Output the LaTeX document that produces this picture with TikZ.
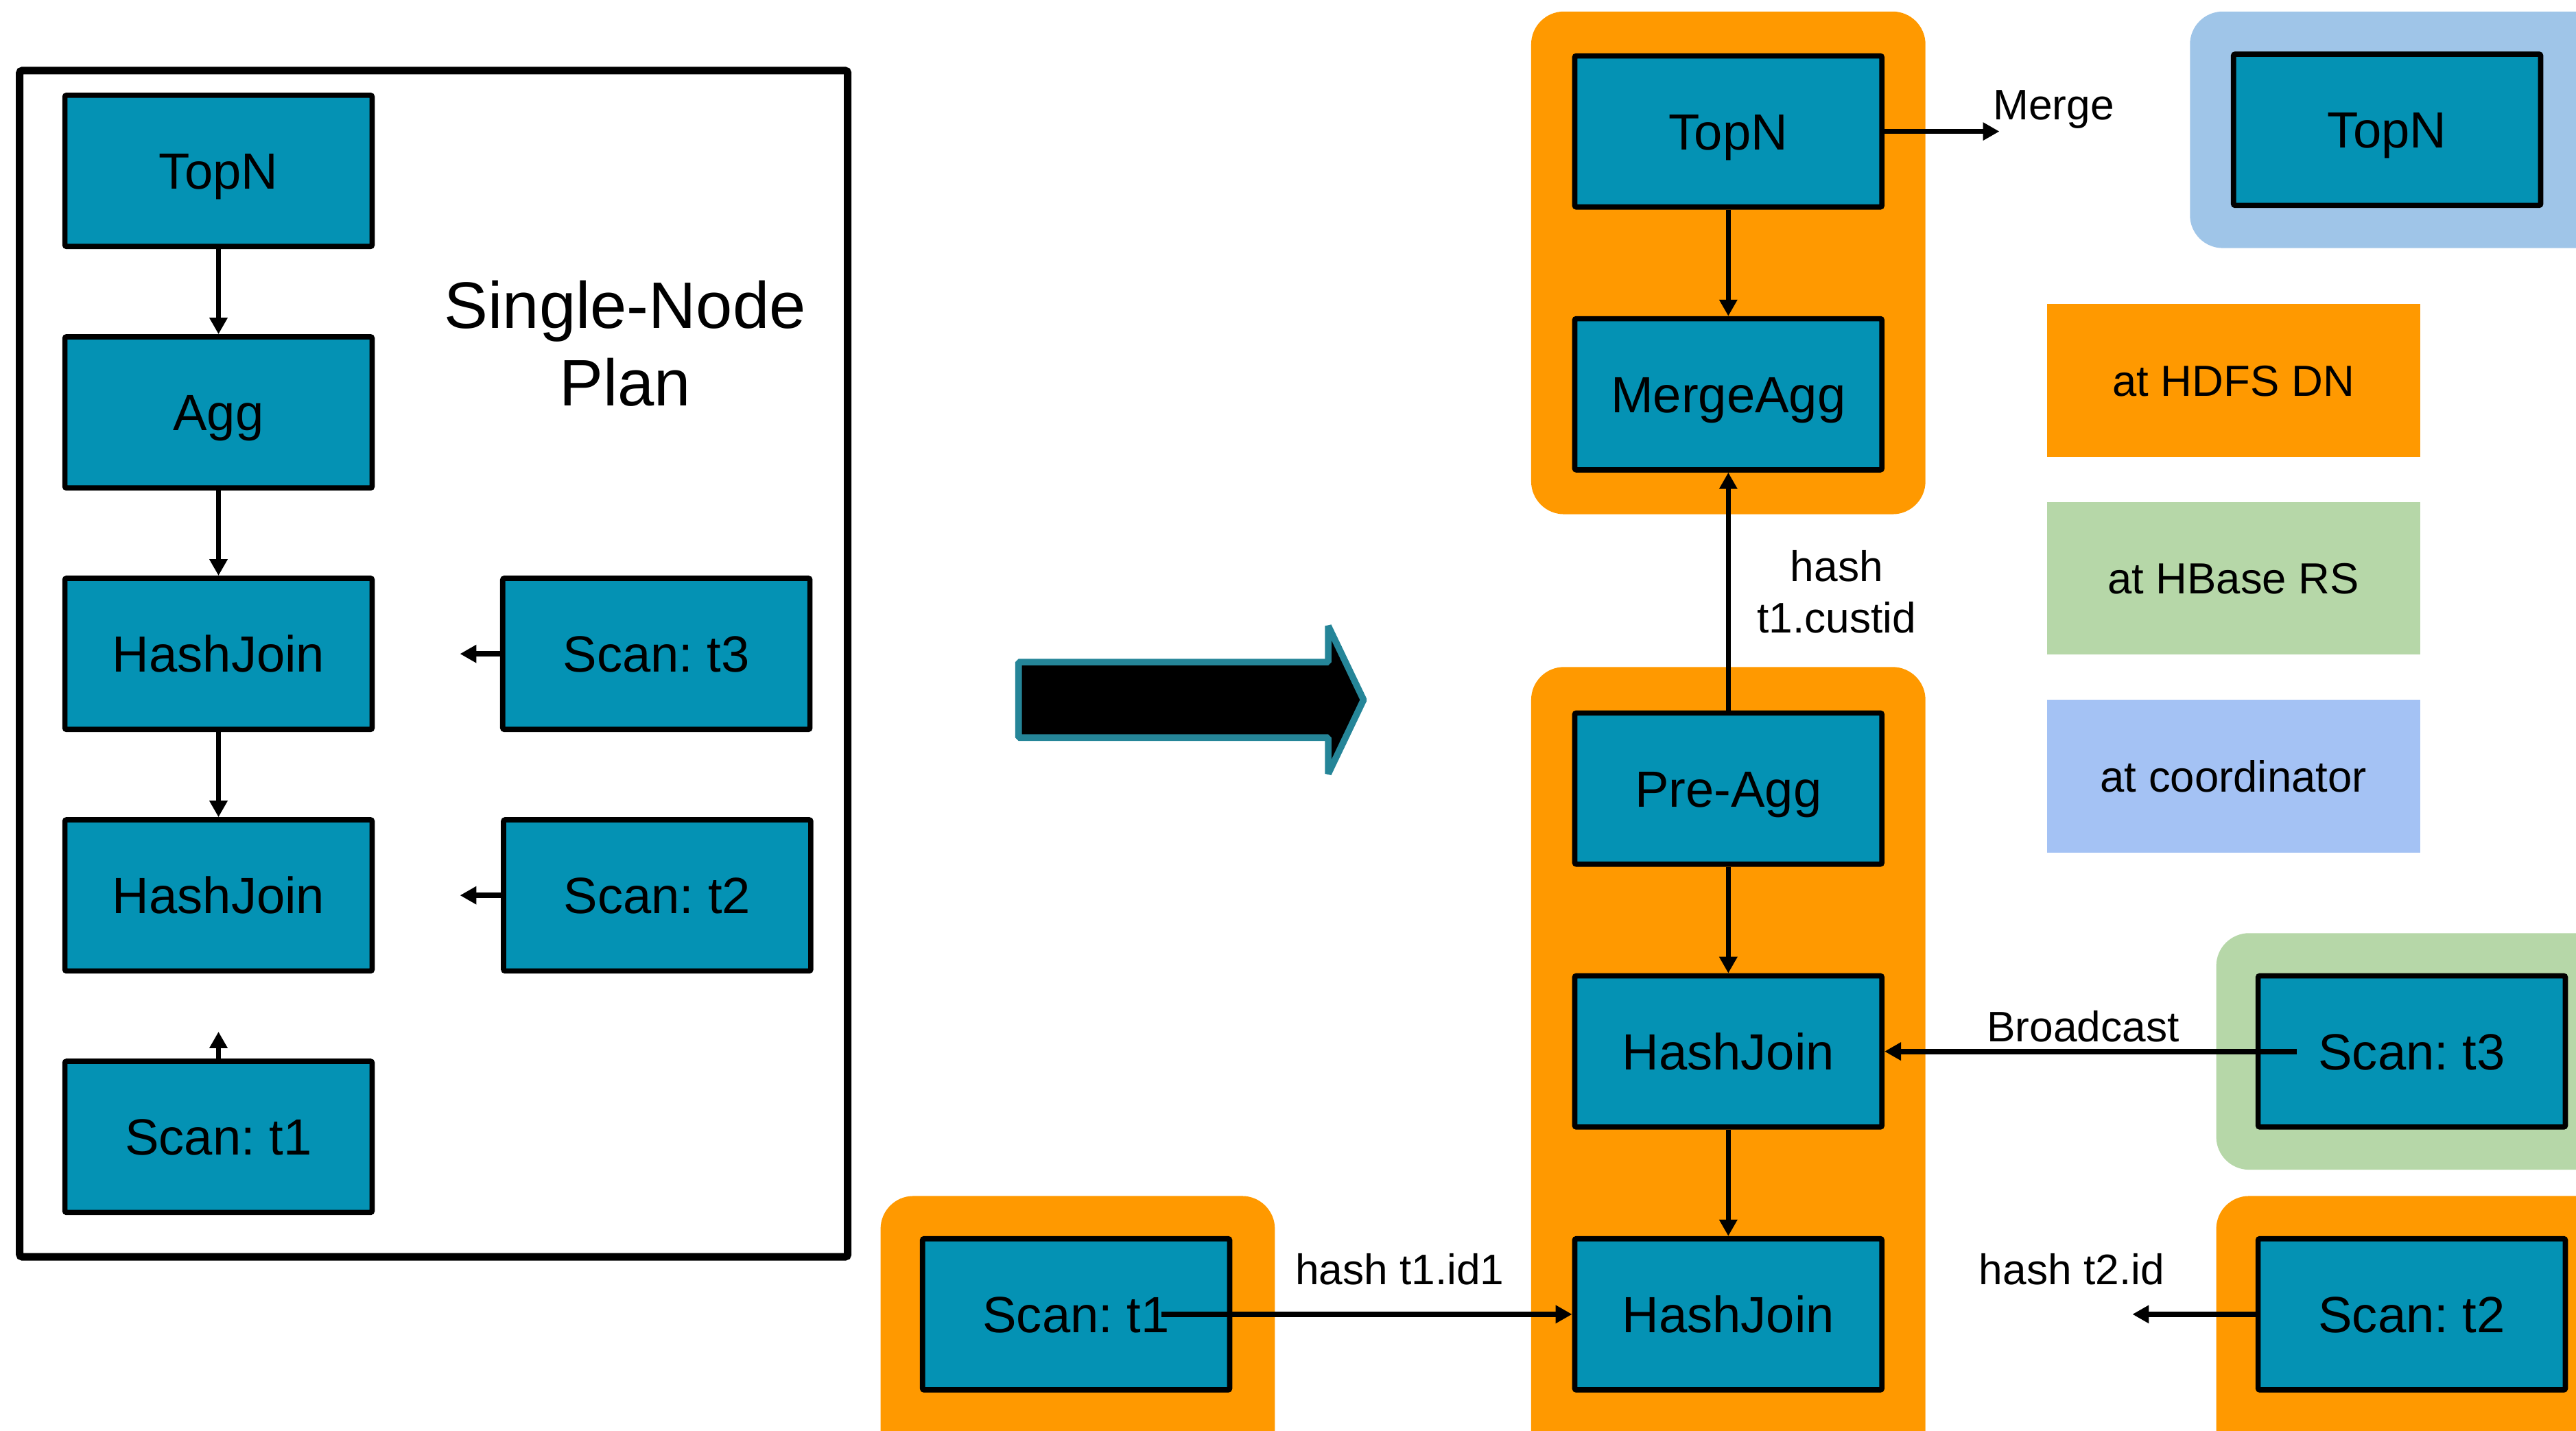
\documentclass[tikz,border=0pt]{standalone}
\usepackage{fontspec}
\setmainfont{Liberation Sans}
\usetikzlibrary{arrows.meta,calc}
\frenchspacing

\definecolor{opbox}{RGB}{4,146,180}
\definecolor{dnorange}{RGB}{255,153,0}
\definecolor{rsgreen}{RGB}{182,215,168}
\definecolor{coordblue}{RGB}{159,197,232}
\definecolor{legblue}{RGB}{164,194,244}
\definecolor{arrowedge}{RGB}{37,133,152}

\tikzset{
  opnode/.style={draw=black, line width=3.2pt, fill=opbox, minimum width=187pt,
    minimum height=92pt, rounded corners=1pt, inner sep=0pt,
    text height=22.2pt, text depth=0pt,
    font=\fontsize{31}{37}\selectfont},
  flow/.style={line width=3.2pt, -{Triangle[length=10pt,width=10.5pt]}},
  lbl/.style={font=\fontsize{26}{31}\selectfont, inner sep=0pt, anchor=base},
  titletext/.style={font=\fontsize{40}{47}\selectfont, inner sep=0pt, anchor=base},
  region/.style={rounded corners=20pt},
  legend/.style={inner sep=0pt, font=\fontsize{26.5}{31}\selectfont,
    text height=19pt, text depth=0pt,
    minimum width=227pt, minimum height=93pt}
}

\begin{document}
\begin{tikzpicture}[x=1pt, y=-1pt]
\useasboundingbox (0,0) rectangle (1568,871);
\clip (0,0) rectangle (1568,871);

% ---------- single-node plan ----------
\draw[line width=4.6pt, rounded corners=1.5pt] (12,43) rectangle (516,765);

\node[opnode] (ltopn) at (133,104) {TopN};
\node[opnode] (lagg)  at (133,251) {Agg};
\node[opnode] (lhj1)  at (133,398) {HashJoin};
\node[opnode] (lhj2)  at (133,545) {HashJoin};
\node[opnode] (ls1)   at (133,692) {Scan: t1};
\node[opnode] (ls3)   at (399.5,398) {Scan: t3};
\node[opnode] (ls2)   at (400,545) {Scan: t2};

\node[titletext] (title1) at (380.5,200) {Single-Node};
\node[titletext] (title2) at (380.5,247) {Plan};

\coordinate (l3end) at (280,398);
\coordinate (l2end) at (280,545);
\coordinate (l1end) at (133,628);

\draw[flow] (ltopn.south) -- (lagg.north);
\draw[flow] (lagg.south) -- (lhj1.north);
\draw[flow] (lhj1.south) -- (lhj2.north);
\draw[flow] (ls3.west) -- (l3end);
\draw[flow] (ls2.west) -- (l2end);
\draw[flow] (ls1.north) -- (l1end);

% ---------- transformation arrow ----------
\filldraw[fill=black, draw=arrowedge, line width=4pt, line join=bevel]
  (620,403) -- (808.5,403) -- (808.5,381) -- (830,426) -- (808.5,471)
  -- (808.5,449) -- (620,449) -- cycle;

% ---------- execution regions ----------
\fill[dnorange, region] (932,7) rectangle (1172,313);
\fill[dnorange, region] (932,406) rectangle (1172,900);
\fill[dnorange, region] (536,728) rectangle (776,900);
\fill[rsgreen, region] (1349,568) rectangle (1600,712);
\fill[dnorange, region] (1349,728) rectangle (1600,900);
\fill[coordblue, region] (1333,7) rectangle (1600,151);

% ---------- legend ----------
\node[legend, fill=dnorange] (legdn)    at (1359.5,231.5) {at HDFS DN};
\node[legend, fill=rsgreen]  (legrs)    at (1359.5,352)   {at HBase RS};
\node[legend, fill=legblue]  (legcoord) at (1359.5,472.5) {at coordinator};

% ---------- distributed plan ----------
\node[opnode] (rtopn)  at (1052,80)  {TopN};
\node[opnode] (magg)   at (1052,240) {MergeAgg};
\node[opnode] (preagg) at (1052,480) {Pre-Agg};
\node[opnode] (hj1)    at (1052,640) {HashJoin};
\node[opnode] (hj2)    at (1052,800) {HashJoin};
\node[opnode] (ctopn)  at (1453,79)  {TopN};
\node[opnode] (s3)     at (1468,640) {Scan: t3};
\node[opnode] (s2)     at (1468,800) {Scan: t2};
\node[opnode] (s1)     at (655,800)  {Scan: t1};

\coordinate (mergeend) at (1217,80);
\coordinate (bcstart) at ($(s3.west)+(25,0)$);
\coordinate (t2end) at (1298,800);
\coordinate (t1start) at ($(s1.center)+(52,0)$);

\draw[flow] (rtopn.south) -- (magg.north);
\draw[flow] (preagg.north) -- (magg.south);
\draw[flow] (preagg.south) -- (hj1.north);
\draw[flow] (hj1.south) -- (hj2.north);
\draw[flow] (rtopn.east) -- (mergeend);
\draw[flow] (bcstart) -- (hj1.east);
\draw[flow] (s2.west) -- (t2end);
\draw[flow] (t1start) -- (hj2.west);

% ---------- exchange labels ----------
\node[lbl] (lmerge) at (1250,73) {Merge};
\node[lbl] (lhash1) at (1118,354) {hash};
\node[lbl] (lhash2) at (1118,385) {t1.custid};
\node[lbl] (lbcast) at (1268,634) {Broadcast};
\node[lbl] (lt2)    at (1261,782) {hash t2.id};
\node[lbl] (lt1)    at (852,782)  {hash t1.id1};
\end{tikzpicture}
\end{document}
